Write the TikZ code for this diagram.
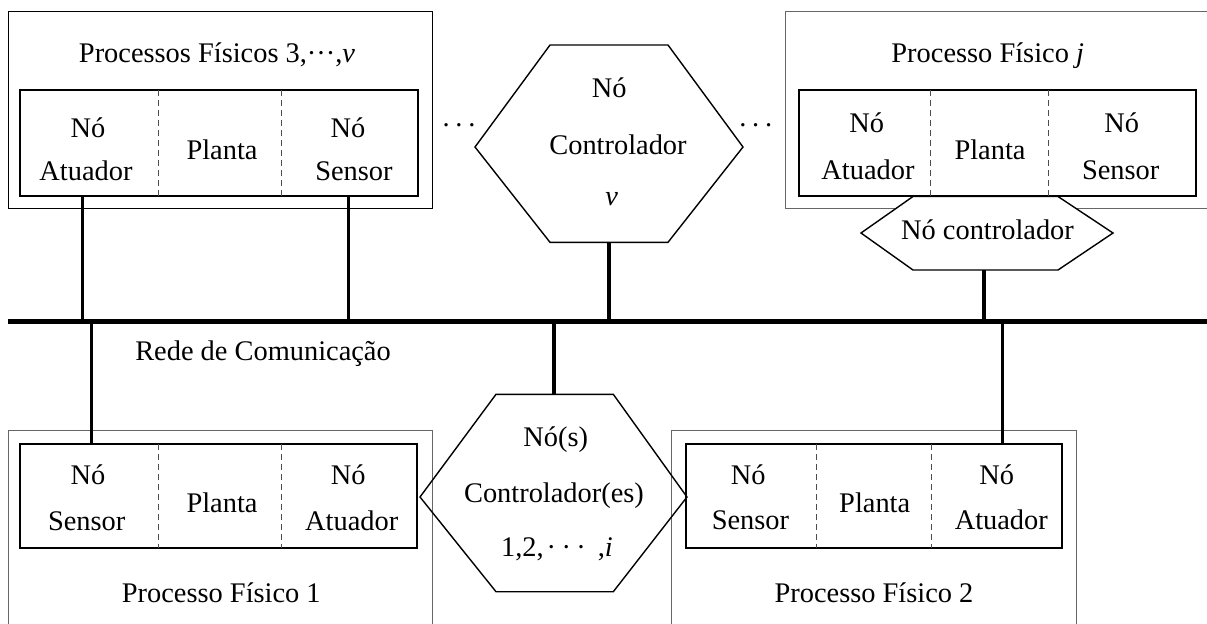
\documentclass[tikz,border=0pt]{standalone}
\usepackage{fontspec}
\setmainfont{Liberation Serif}
\begin{document}
\begin{tikzpicture}[x=0.5pt,y=-0.5pt,
  outerbox/.style={draw=black!60,line width=0.5pt},
  inbox/.style={draw,line width=1pt,rectangle,inner sep=0pt},
  divider/.style={draw=black!70,line width=0.5pt,dash pattern=on 3pt off 2pt},
  hexline/.style={draw,line width=0.7pt,line join=miter},
  conn/.style={line width=1.7pt},
  busline/.style={line width=2.7pt},
  lbl/.style={anchor=base,inner sep=0pt,font=\fontsize{14.2}{17}\selectfont}]
\useasboundingbox (0,0) rectangle (1207,623);

% outer boxes (physical processes)
\draw[outerbox,draw=black] (8,11.7) rectangle (432.7,208.3);
\draw[outerbox] (1210,11.7) -- (785,11.7) -- (785,208.3) -- (1210,208.3);
\draw[outerbox] (8.3,625) -- (8.3,430.7) -- (432.7,430.7) -- (432.7,625);
\draw[outerbox] (671.7,625) -- (671.7,430.7) -- (1076.7,430.7) -- (1076.7,625);

% hexagons (controller nodes)
\draw[hexline] (550,45) -- (668,45) -- (743,147) -- (668,242.3) -- (550,242.3) -- (475,147) -- cycle;
\draw[hexline,fill=white] (913,196.5) -- (861,233) -- (913,270) -- (1058,270) -- (1113,233) -- (1058,196.5) -- cycle;
\draw[hexline] (496,394.3) -- (613.3,394.3) -- (687,497) -- (613.3,591.7) -- (496,591.7) -- (420,497) -- cycle;

% inner boxes
\node[inbox,minimum width=199pt,minimum height=53pt] (tlin) at (219,143) {};
\node[inbox,minimum width=198.2pt,minimum height=53pt] (trin) at (997.5,143) {};
\node[inbox,minimum width=198.7pt,minimum height=52.2pt] (blin) at (218.7,496.2) {};
\node[inbox,minimum width=188.2pt,minimum height=52.2pt] (brin) at (874.2,496.2) {};

% dashed dividers
\draw[divider] (158,90) -- (158,196);
\draw[divider] (281,90) -- (281,196);
\draw[divider] (930,90) -- (930,196);
\draw[divider] (1048,90) -- (1048,196);
\draw[divider] (158,444) -- (158,548);
\draw[divider] (281,444) -- (281,548);
\draw[divider] (816,444) -- (816,548);
\draw[divider] (931.7,444) -- (931.7,548);

% connection points
\coordinate (busL) at (8.3,321.3);
\coordinate (busR) at (1207,321.3);
\coordinate (xa) at (82.7,0);
\coordinate (xb) at (348.3,0);
\coordinate (xc) at (91.7,0);
\coordinate (xd) at (1002.3,0);
\coordinate (hv) at (609,242.3);
\coordinate (hj) at (984,270);
\coordinate (hi) at (554,394.3);

% connectors
\draw[conn] (tlin.south -| xa) -- (xa |- busL);
\draw[conn] (tlin.south -| xb) -- (xb |- busL);
\draw[conn] (hv) -- (hv |- busL);
\draw[conn] (hj) -- (hj |- busL);
\draw[conn] (blin.north -| xc) -- (xc |- busL);
\draw[conn] (brin.north -| xd) -- (xd |- busL);
\draw[conn] (hi) -- (hi |- busL);
\draw[busline] (busL) -- (busR);

% labels: top-left
\node[lbl] (tlt) at (217,62.7) {Processos Físicos 3,···,\textit{v}};
\node[lbl] (tl1) at (88,137.5) {Nó};
\node[lbl] (tl2) at (86,180) {Atuador};
\node[lbl] (tl3) at (222,159) {Planta};
\node[lbl] (tl4) at (348,137.5) {Nó};
\node[lbl] (tl5) at (354,180) {Sensor};
% top-right
\node[lbl] (trt) at (987.7,62) {Processo Físico \textit{j}};
\node[lbl] (tr1) at (866.7,132) {Nó};
\node[lbl] (tr2) at (868,179.3) {Atuador};
\node[lbl] (tr3) at (990,159.3) {Planta};
\node[lbl] (tr4) at (1121.7,132) {Nó};
\node[lbl] (tr5) at (1120.7,179.3) {Sensor};
\node[lbl] (hjt) at (987.5,239.3) {Nó controlador};
% center top hexagon
\node[lbl] (hv1) at (609.3,97.3) {Nó};
\node[lbl] (hv2) at (618,154) {Controlador};
\node[lbl] (hv3) at (611.7,205) {\textit{v}};
\node[lbl] (dl) at (459,126) {.\kern2.9pt.\kern2.9pt.};
\node[lbl] (dr) at (755.7,126) {.\kern2.9pt.\kern2.9pt.};
% network
\node[lbl] (net) at (263,360) {Rede de Comunicação};
% bottom hexagon
\node[lbl] (hi1) at (555.8,446.7) {Nó(s)};
\node[lbl] (hi2) at (554,502.7) {Controlador(es)};
\node[lbl] (hi3) at (557,556) {1,2,\kern1.5pt·\kern2.7pt·\kern2.7pt·\kern6pt,\textit{i}};
% bottom-left
\node[lbl] (bl1) at (88,484.3) {Nó};
\node[lbl] (bl2) at (86.7,530) {Sensor};
\node[lbl] (bl3) at (222,512.7) {Planta};
\node[lbl] (bl4) at (348.3,484.3) {Nó};
\node[lbl] (bl5) at (351.7,530) {Atuador};
\node[lbl] (blt) at (221.3,602.7) {Processo Físico 1};
% bottom-right
\node[lbl] (br1) at (748.3,484.3) {Nó};
\node[lbl] (br2) at (750.5,529.3) {Sensor};
\node[lbl] (br3) at (874.7,512.3) {Planta};
\node[lbl] (br4) at (996.7,484.3) {Nó};
\node[lbl] (br5) at (1001.3,529.3) {Atuador};
\node[lbl] (brt) at (874,602.7) {Processo Físico 2};
\end{tikzpicture}
\end{document}
